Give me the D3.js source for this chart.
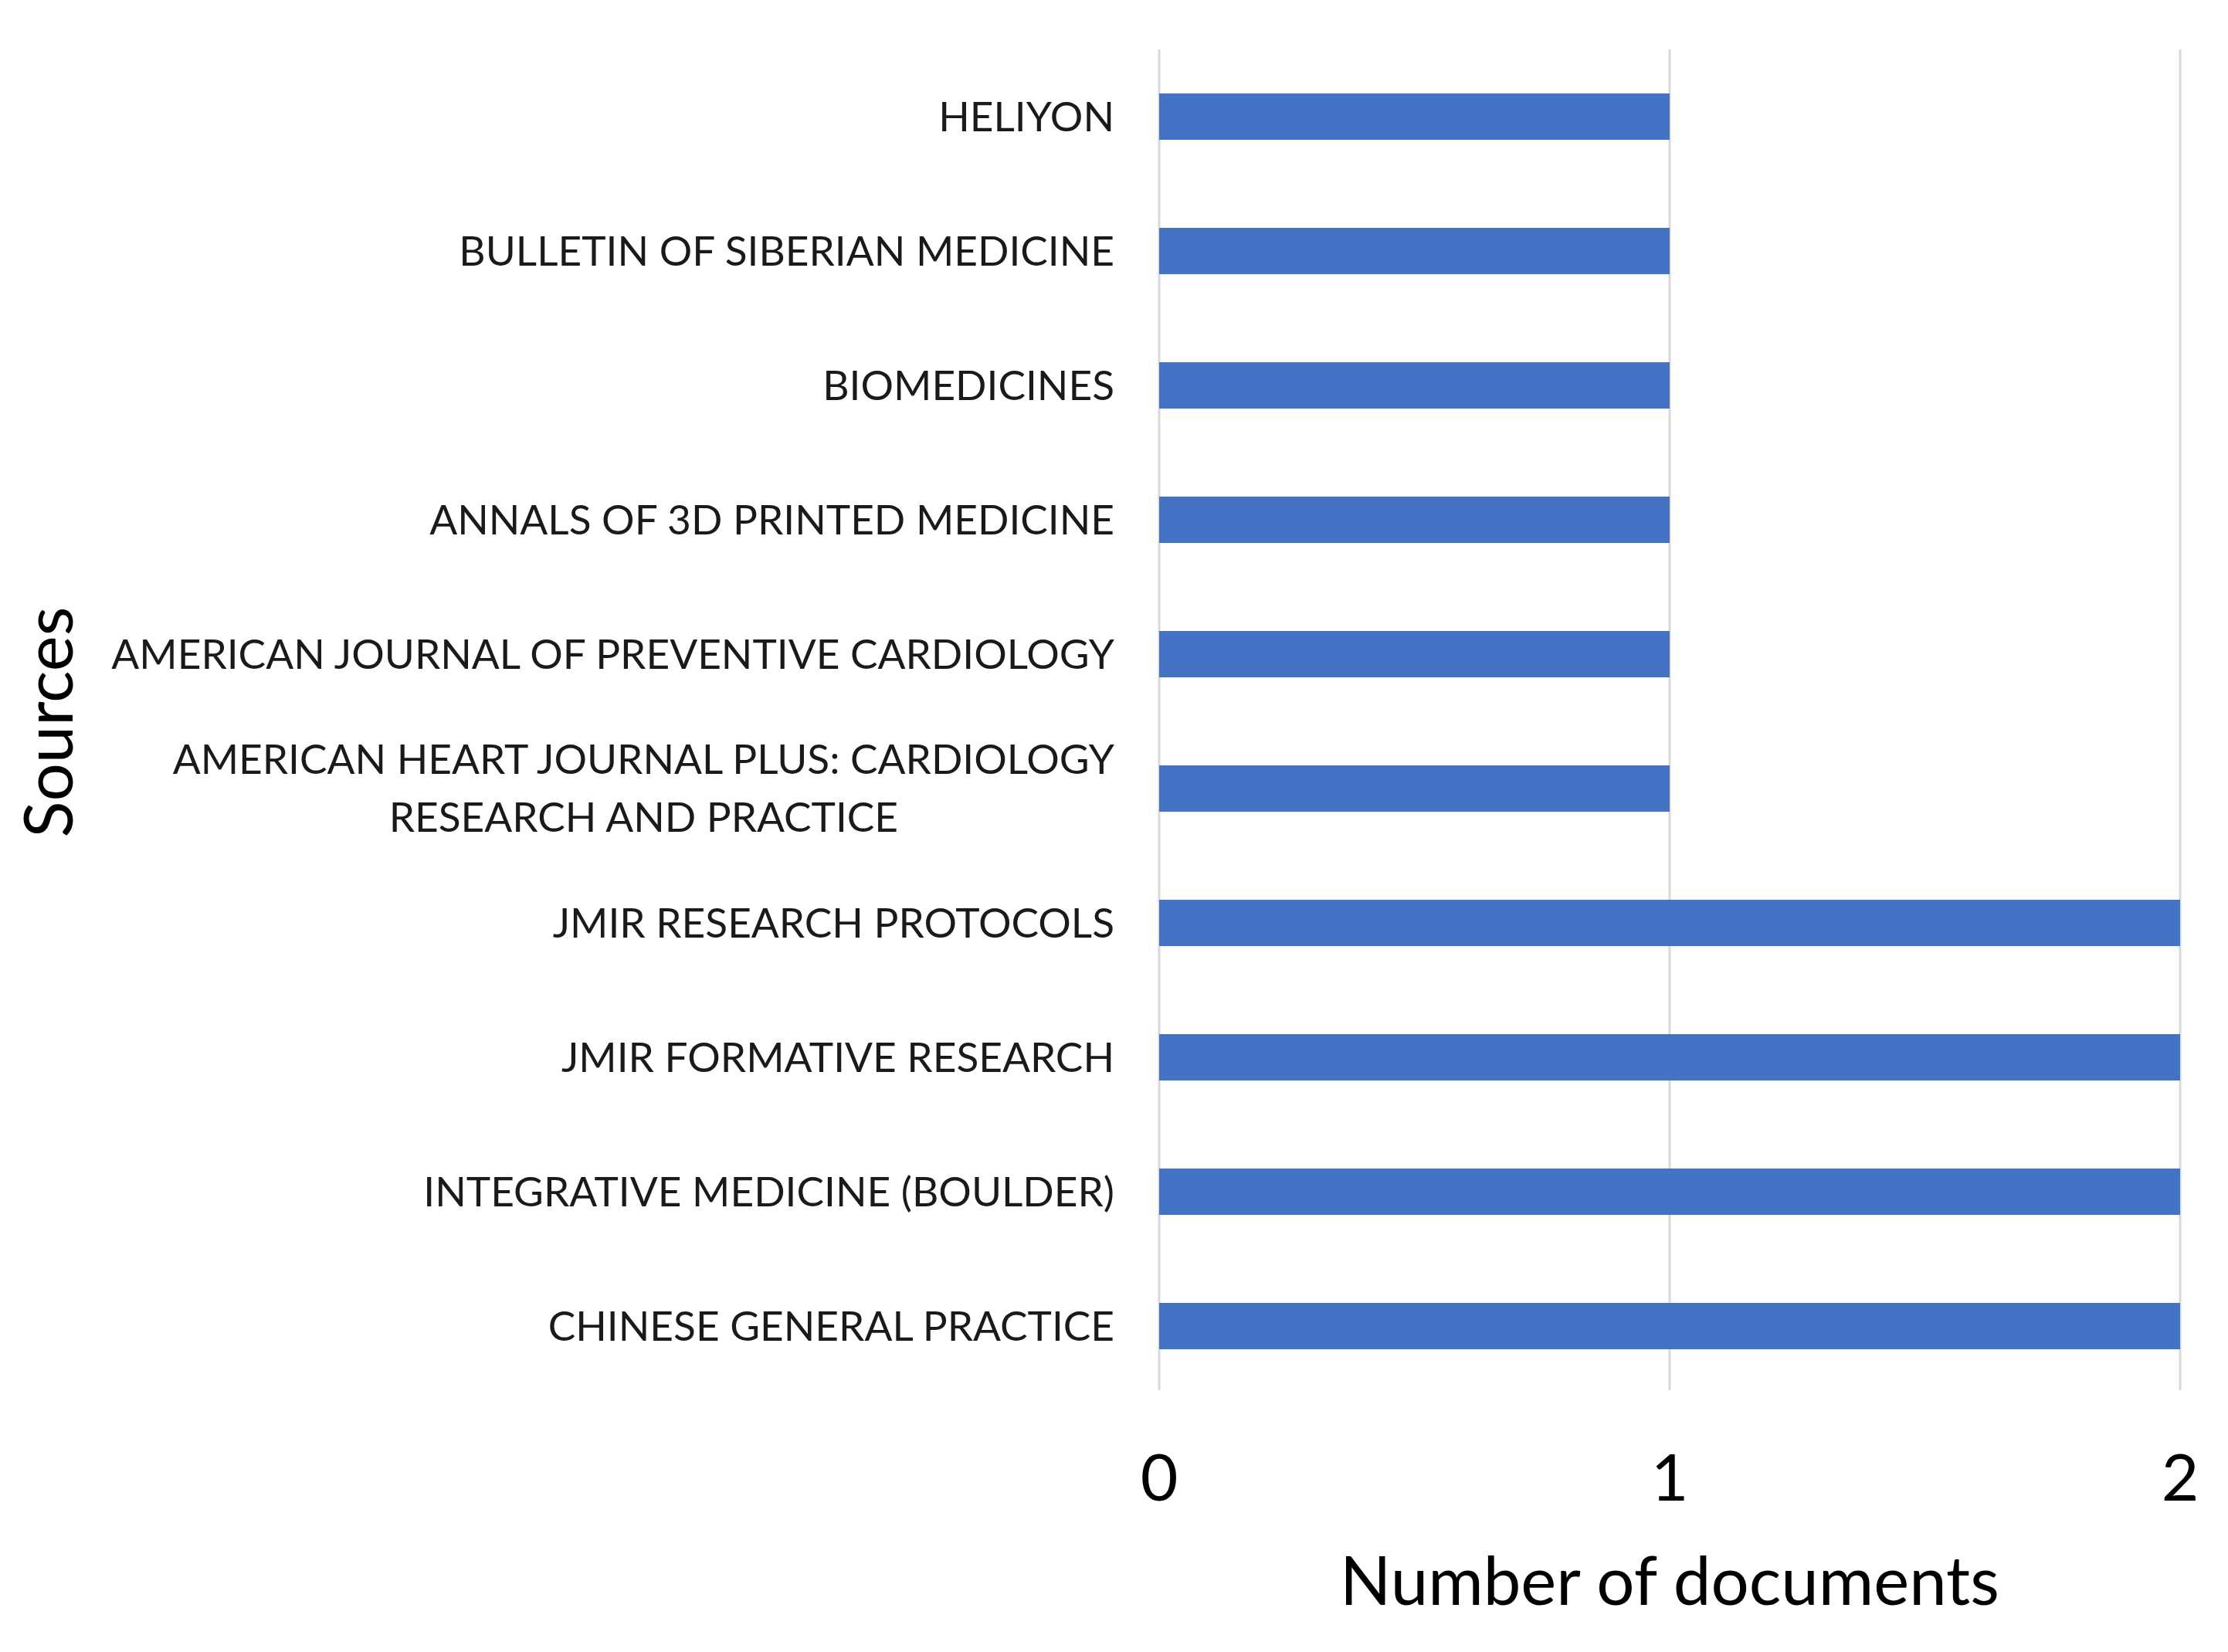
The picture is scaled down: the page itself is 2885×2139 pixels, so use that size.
<!DOCTYPE html>
<html><head><meta charset="utf-8">
<script src="https://cdn.jsdelivr.net/npm/d3@7"></script>
<style>html,body{margin:0;padding:0;background:#fff;}</style>
</head><body>
<svg id="chart" width="2885" height="2139"></svg>
<script>
const categories = [
  "HELIYON",
  "BULLETIN OF SIBERIAN MEDICINE",
  "BIOMEDICINES",
  "ANNALS OF 3D PRINTED MEDICINE",
  "AMERICAN JOURNAL OF PREVENTIVE CARDIOLOGY",
  "AMERICAN HEART JOURNAL PLUS: CARDIOLOGY\nRESEARCH AND PRACTICE",
  "JMIR RESEARCH PROTOCOLS",
  "JMIR FORMATIVE RESEARCH",
  "INTEGRATIVE MEDICINE (BOULDER)",
  "CHINESE GENERAL PRACTICE"
];
const values = [1, 1, 1, 1, 1, 1, 2, 2, 2, 2];
const xTicks = [0, 1, 2];
const xTitle = "Number of documents";
const yTitle = "Sources";

(function () {
const FONT = "Lato, 'Open Sans', sans-serif";
const svg = d3.select("#chart");
const pLeft = 1501, pRight = 2823, pTop = 64, pBottom = 1804;

const x = d3.scaleLinear().domain([0, 2]).range([pLeft, pRight]);
const y = d3.scaleBand().domain(categories).range([pTop, pBottom])
  .paddingInner(0.655).paddingOuter(0.3275);

// gridlines
svg.append("g").selectAll("line").data(xTicks).join("line")
  .attr("x1", d => x(d)).attr("x2", d => x(d))
  .attr("y1", pTop).attr("y2", pBottom - 4)
  .attr("stroke", "#d9d9d9").attr("stroke-width", 3);

// bars
svg.append("g").selectAll("rect").data(categories).join("rect")
  .attr("x", x(0))
  .attr("y", d => y(d))
  .attr("width", (d, i) => x(values[i]) - x(0))
  .attr("height", y.bandwidth())
  .attr("fill", "#4472C4");

// category labels
const labelRight = 1443;
const lbl = svg.append("g").attr("font-family", FONT).attr("fill", "#1a1a1a");
const labels = lbl.selectAll("text").data(categories).join("text")
  .attr("font-size", 56)
  .each(function(d) {
    const lines = d.split("\n");
    const t = d3.select(this);
    const cy = y(d) + y.bandwidth() / 2;
    if (lines.length === 1) {
      t.attr("x", labelRight).attr("y", cy).attr("dy", "0.35em").attr("text-anchor", "end").text(d);
    } else {
      t.attr("text-anchor", "middle");
      lines.forEach((ln, k) => {
        t.append("tspan").attr("y", cy + (k - (lines.length - 1) / 2) * 75)
          .attr("dy", "0.35em").text(ln);
      });
    }
  });
// fit font size so widest label matches reference width
let widest = 0;
labels.each(function(d){ if (d.indexOf("\n") < 0) widest = Math.max(widest, this.getComputedTextLength()); });
const fs = 56 * 1299 / widest;
labels.attr("font-size", fs);
labels.filter(d => d.indexOf("\n") >= 0).each(function() {
  const t = d3.select(this);
  let w = 0;
  t.selectAll("tspan").each(function(){ w = Math.max(w, this.getComputedTextLength()); });
  t.selectAll("tspan").attr("x", labelRight - w / 2);
});

// x axis tick labels
svg.append("g").attr("font-family", FONT).attr("fill", "#000")
  .selectAll("text").data(xTicks).join("text")
  .attr("x", d => x(d)).attr("y", 1914).attr("dy", "0.35em")
  .attr("text-anchor", "middle").attr("font-size", 84).text(d => d);

// axis titles
const xt = svg.append("text").attr("font-family", FONT).attr("fill", "#000")
  .attr("x", (pLeft + pRight) / 2).attr("y", 2048).attr("dy", "0.35em")
  .attr("text-anchor", "middle").attr("font-size", 90).text(xTitle);
const xw = xt.node().getComputedTextLength();
xt.attr("font-size", 90 * 854 / xw);

svg.append("text").attr("font-family", FONT).attr("fill", "#000")
  .attr("transform", "translate(64,935) rotate(-90)").attr("dy", "0.35em")
  .attr("text-anchor", "middle").attr("font-size", 90 * 854 / xw).text(yTitle);
})();
</script>
</body></html>
